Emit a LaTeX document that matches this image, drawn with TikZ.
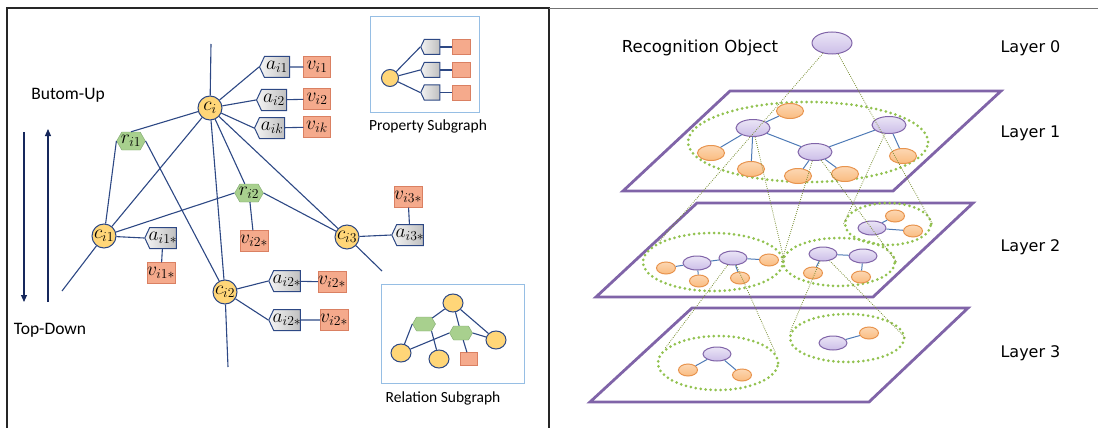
\documentclass[tikz,border=0pt]{standalone}
\usepackage{fix-cm}
\usepackage{fontspec}
\setmainfont{Carlito}
\newfontfamily\verdfont{DejaVu Sans}
\usetikzlibrary{shapes.geometric, shapes.symbols, positioning, calc, arrows.meta}

\definecolor{navy}{RGB}{45,72,132}
\definecolor{arrblue}{RGB}{22,40,92}
\definecolor{cyel}{RGB}{255,214,120}
\definecolor{vsal}{RGB}{245,170,140}
\definecolor{vsaledge}{RGB}{218,128,98}
\definecolor{rgreen}{RGB}{168,208,142}
\definecolor{rgreenedge}{RGB}{125,165,110}
\definecolor{boxblue}{RGB}{150,190,228}
\definecolor{lpurple}{RGB}{128,100,168}
\definecolor{pfill}{RGB}{204,190,232}
\definecolor{ofill}{RGB}{250,188,128}
\definecolor{oedge}{RGB}{232,148,78}
\definecolor{ledge}{RGB}{78,122,182}
\definecolor{dotgreen}{RGB}{146,194,80}
\definecolor{projline}{RGB}{118,140,48}

\newcommand\mlab{\fontsize{19.5}{19.5}\selectfont}

\tikzset{
  cnode/.style={circle, draw=navy, fill=cyel, line width=1pt, inner sep=-3pt, minimum size=24pt, font=\mlab},
  anode/.style={signal, signal to=west, signal pointer angle=130, draw=navy, line width=1pt,
    left color=gray!8, right color=gray!50, minimum width=30pt, minimum height=21pt, inner xsep=-1pt, inner ysep=0pt, font=\mlab},
  vnode/.style={rectangle, draw=vsaledge, fill=vsal, minimum width=27pt, minimum height=21pt, inner sep=0pt, font=\mlab},
  rnode/.style={signal, signal to=east and west, signal pointer angle=120, draw=rgreenedge, fill=rgreen,
    minimum width=28pt, minimum height=18pt, inner xsep=-1pt, inner ysep=-1pt, font=\mlab},
  link/.style={draw=navy, line width=1.1pt},
  % small copies for the two legend boxes
  sc/.style={ellipse, draw=navy, fill=cyel, line width=1pt, minimum width=20pt, minimum height=18pt, inner sep=0pt},
  sa/.style={signal, signal to=west, signal pointer angle=130, draw=navy, line width=1pt,
    left color=gray!10, right color=gray!50, minimum width=19pt, minimum height=15pt, inner sep=0pt},
  sv/.style={rectangle, draw=vsaledge, fill=vsal, minimum width=18pt, minimum height=15pt, inner sep=0pt},
  sr/.style={signal, signal to=east and west, signal pointer angle=120, draw=rgreenedge, fill=rgreen,
    minimum width=23pt, minimum height=14pt, inner sep=0pt},
  legend/.style={rectangle, draw=boxblue, line width=1pt, inner sep=0pt},
  % right panel
  pnode/.style={ellipse, draw=lpurple, line width=1pt, top color=pfill!40!white, bottom color=pfill, inner sep=0pt},
  onode/.style={ellipse, draw=oedge, line width=1pt, top color=ofill!60!white, bottom color=ofill, inner sep=0pt},
  group/.style={ellipse, draw=dotgreen, line width=3pt, dash pattern=on 0pt off 5pt, line cap=round, inner sep=0pt},
  plane/.style={draw=lpurple, line width=2.8pt, line join=miter},
  proj/.style={draw=projline, line width=0.8pt, dash pattern=on 0.8pt off 1.3pt},
  edge/.style={draw=ledge, line width=1pt},
}

\begin{document}
\begin{tikzpicture}[x=1pt, y=-1pt]
\useasboundingbox (0,0) rectangle (1098,428);

% ===================================================
% 0. FRAMES
% ===================================================
\draw[line width=1.2pt, black!85] (7,428) -- (7,8) -- (549,8) -- (549,428);
\draw[line width=1pt, black!55] (549,9) -- (1098,9);

% ===================================================
% 1. LEFT PANEL: DIRECTION ARROWS
% ===================================================
\coordinate (dnA) at (24,132);
\coordinate (dnB) at (24,302);
\coordinate (upA) at (48,302);
\coordinate (upB) at (48,129);
\draw[arrblue, line width=1.1pt, -{Triangle[length=7pt,width=6pt]}] (dnA) -- (dnB);
\draw[arrblue, line width=1.1pt, -{Triangle[length=7pt,width=6pt]}] (upA) -- (upB);
\node[font=\fontsize{17.5}{18}\selectfont] (bu) at (68,95) {Butom-Up};
\node[font=\fontsize{17.5}{18}\selectfont] (td) at (50,330) {Top-Down};

% ===================================================
% 2. LEFT PANEL: ENTITY GRAPH
% ===================================================
% concept c_i with its properties
\node[cnode] (ci) at (210,108) {$c_i$};
\coordinate (citop) at (211,44);
\node[anode] (ai1) at (277,67) {$a_{i1}$};
\node[vnode] (vi1) at (317,67) {$v_{i1}$};
\node[anode] (ai2) at (274,100) {$a_{i2}$};
\node[vnode] (vi2) at (317,99) {$v_{i2}$};
\node[anode] (aik) at (272,128) {$a_{ik}$};
\node[vnode] (vik) at (317,127) {$v_{ik}$};

% relations
\node[rnode] (ri1) at (131,141) {$r_{i1}$};
\node[rnode] (ri2) at (249,193) {$r_{i2}$};
\node[vnode] (vi2r) at (254,241) {$v_{i2*}$};

% neighbouring concepts
\node[cnode] (ci1) at (104,236) {$c_{i1}$};
\node[anode] (ai1s) at (163,238) {$a_{i1*}$};
\node[vnode] (vi1s) at (161,273) {$v_{i1*}$};
\coordinate (c1end) at (62,291);

\node[cnode] (ci2) at (225,292) {$c_{i2}$};
\node[anode] (ai2a) at (287,281) {$a_{i2*}$};
\node[vnode] (vi2a) at (332,282) {$v_{i2*}$};
\node[anode] (ai2b) at (287,320) {$a_{i2*}$};
\node[vnode] (vi2b) at (334,320) {$v_{i2*}$};
\coordinate (c2end) at (228,367);

\node[cnode] (ci3) at (347,237) {$c_{i3}$};
\node[anode] (ai3s) at (410,235) {$a_{i3*}$};
\node[vnode] (vi3s) at (408,197) {$v_{i3*}$};
\coordinate (c3end) at (382,271);

% links
\draw[link] (ci) -- (citop);
\foreach \k in {i1,i2,ik}{
  \draw[link] (ci) -- (a\k.west);
  \draw[link] (a\k) -- (v\k);
}
\draw[link] (ci) -- (ri1.north);
\draw[link] (ri1.west) -- (ci1);
\draw[link] (ri1.east) -- (ci2);
\draw[link] (ci) -- (ci1);
\draw[link] (ci) -- (ci2);
\draw[link] (ci) -- (ri2);
\draw[link] (ci) -- (ci3);
\draw[link] (ri2.west) -- (ci1);
\draw[link] (ri2.east) -- (ci3);
\draw[link] (ri2) -- (vi2r);
\draw[link] (ci1) -- (ai1s.west);
\draw[link] (ai1s) -- (vi1s);
\draw[link] (ci1) -- (c1end);
\draw[link] (ci2) -- (ai2a.west);
\draw[link] (ai2a) -- (vi2a);
\draw[link] (ci2) -- (ai2b.west);
\draw[link] (ai2b) -- (vi2b);
\draw[link] (ci2) -- (c2end);
\draw[link] (ci3) -- (ai3s.west);
\draw[link] (ai3s) -- (vi3s);
\draw[link] (ci3) -- (c3end);

% ===================================================
% 3. LEFT PANEL: LEGEND BOXES
% ===================================================
\node[legend, minimum width=109pt, minimum height=95pt] (pbox) at (424.5,64.5) {};
\node[sc, minimum width=17pt, minimum height=17pt] (pc) at (390,78) {};
\foreach \n/\y in {1/47,2/70,3/92.5}{
  \node[sa] (pa\n) at (432,\y) {};
  \node[sv] (pv\n) at (461,\y) {};
  \draw[link] (pc) -- (pa\n.west);
  \draw[link] (pa\n) -- (pv\n);
}
\node[font=\fontsize{15.5}{16}\selectfont] (ptxt) at (428,126) {Property Subgraph};

\node[legend, minimum width=143pt, minimum height=99pt] (rbox) at (452.5,333.5) {};
\node[sc] (rc1) at (453,303) {};
\node[sc] (rc2) at (401,353) {};
\node[sc] (rc3) at (439,359) {};
\node[sc] (rc4) at (496,340) {};
\node[sr] (rh1) at (424,324) {};
\node[sr] (rh2) at (461,333) {};
\node[sv, minimum width=17pt, minimum height=13pt] (rv) at (469,359) {};
\draw[link] (rc1) -- (rh1);
\draw[link] (rc1) -- (rh2);
\draw[link] (rc1) -- (rc4);
\draw[link] (rh1.west) -- (rc2);
\draw[link] (rh1.south east) -- (rc3);
\draw[link] (rh2.west) -- (rc2);
\draw[link] (rh2.east) -- (rc4);
\draw[link] (rh2) -- (rv);
\node[font=\fontsize{15.5}{16}\selectfont] (rtxt) at (443,398) {Relation Subgraph};

% ===================================================
% 4. RIGHT PANEL: LAYER PLANES
% ===================================================
\draw[plane] (730,91) -- (1001,91) -- (893,191) -- (623,191) -- cycle;
\draw[plane] (697,203) -- (973,203) -- (873,297) -- (596,297) -- cycle;
\draw[plane] (692,308) -- (968,308) -- (869,402) -- (590,402) -- cycle;

% dotted groups
\node[group, minimum width=240pt, minimum height=80pt] (g1) at (808,142) {};
\node[group, minimum width=140pt, minimum height=58pt] (g2a) at (713,262) {};
\node[group, minimum width=112pt, minimum height=48pt] (g2b) at (839,262) {};
\node[group, minimum width=86pt, minimum height=42pt] (g2c) at (888,224) {};
\node[group, minimum width=120pt, minimum height=54pt] (g3a) at (718,363) {};
\node[group, minimum width=114pt, minimum height=48pt] (g3b) at (847,338) {};

% ===================================================
% 5. RIGHT PANEL: NODES
% ===================================================
\node[pnode, minimum width=40pt, minimum height=22pt] (obj) at (832,43) {};
\node[font=\fontsize{16.5}{17}\selectfont\verdfont] (objtxt) at (700,48) {Recognition Object};

% layer 1
\begin{scope}[every node/.append style={minimum width=34pt, minimum height=17pt}]
\node[pnode] (l1a) at (753,128) {};
\node[pnode] (l1b) at (815,152) {};
\node[pnode] (l1c) at (889,125) {};
\end{scope}
\begin{scope}[every node/.append style={minimum width=27pt, minimum height=15pt}]
\node[onode] (l1o1) at (790,111) {};
\node[onode] (l1o2) at (711,153) {};
\node[onode] (l1o3) at (751,169) {};
\node[onode] (l1o4) at (798,176) {};
\node[onode] (l1o5) at (845,174) {};
\node[onode] (l1o6) at (903,156) {};
\end{scope}
\draw[edge] (l1a) -- (l1o1);
\draw[edge] (l1a) -- (l1o2);
\draw[edge] (l1a) -- (l1o3);
\draw[edge] (l1a) -- (l1b);
\draw[edge] (l1b) -- (l1o4);
\draw[edge] (l1b) -- (l1o5);
\draw[edge] (l1b) -- (l1c);
\draw[edge] (l1c) -- (l1o6);

% layer 2 and 3
\begin{scope}[every node/.append style={minimum width=28pt, minimum height=14pt}]
\node[pnode] (l2a) at (697,263) {};
\node[pnode] (l2b) at (733,258) {};
\node[pnode] (l2c) at (823,254) {};
\node[pnode] (l2d) at (863,256) {};
\node[pnode] (l2e) at (872,228) {};
\node[pnode] (l3a) at (717,354) {};
\node[pnode] (l3b) at (833,343) {};
\end{scope}
\begin{scope}[every node/.append style={minimum width=19pt, minimum height=12pt}]
\node[onode] (l2o1) at (666,268) {};
\node[onode] (l2o2) at (769,260) {};
\node[onode] (l2o3) at (699,281) {};
\node[onode] (l2o4) at (740,278) {};
\node[onode] (l2o5) at (813,273) {};
\node[onode] (l2o6) at (861,277) {};
\node[onode] (l2o7) at (895,216) {};
\node[onode] (l2o8) at (913,231) {};
\node[onode] (l3o1) at (688,370) {};
\node[onode] (l3o2) at (742,375) {};
\node[onode] (l3o3) at (869,333) {};
\end{scope}
\draw[edge] (l2o1) -- (l2a);
\draw[edge] (l2a) -- (l2b);
\draw[edge] (l2b) -- (l2o2);
\draw[edge] (l2a) -- (l2o3);
\draw[edge] (l2b) -- (l2o4);
\draw[edge] (l2c) -- (l2d);
\draw[edge] (l2c) -- (l2o5);
\draw[edge] (l2d) -- (l2o6);
\draw[edge] (l2e) -- (l2o7);
\draw[edge] (l2e) -- (l2o8);
\draw[edge] (l3a) -- (l3o1);
\draw[edge] (l3a) -- (l3o2);
\draw[edge] (l3b) -- (l3o3);

% projections between layers
\draw[proj] (obj) -- (g2a.160);
\draw[proj] (obj) -- (g2c.east);
\draw[proj] (l1a) -- (g2a.east);
\draw[proj] (l1b) -- (g2b.west);
\draw[proj] (l1b) -- (g2b.east);
\draw[proj] (l1c) -- (g2c.west);
\draw[proj] (l2b) -- (g3a.165);
\draw[proj] (l2b) -- (g3a.10);
\draw[proj] (l2c) -- (g3b.175);
\draw[proj] (l2c) -- (g3b.east);

% layer labels
\foreach \i/\y in {0/48,1/133,2/247,3/353}{
  \node[anchor=west, font=\fontsize{16}{17}\selectfont\verdfont] (lay\i) at (997,\y) {Layer \i};
}

\end{tikzpicture}
\end{document}
